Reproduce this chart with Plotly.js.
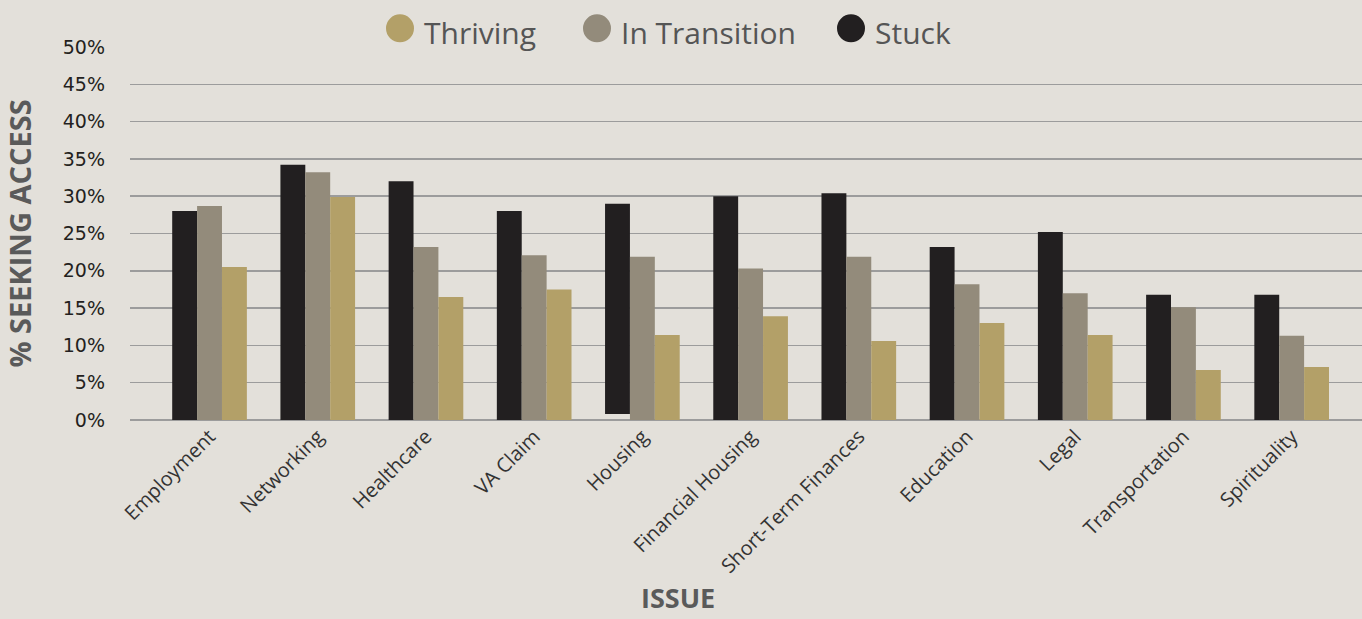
<!DOCTYPE html>
<html>
<head>
<meta charset="utf-8">
<script src="https://cdn.plot.ly/plotly-3.0.1.min.js"></script>
<style>
  html, body { margin: 0; padding: 0; background: #e3e0da; }
  #chart { width: 1362px; height: 619px; }
</style>
</head>
<body>
<div id="chart"></div>
<script>
// Share of respondents seeking access to each issue, by group (percent)
const categories = ['Employment', 'Networking', 'Healthcare', 'VA Claim', 'Housing',
  'Financial Housing', 'Short-Term Finances', 'Education', 'Legal', 'Transportation', 'Spirituality'];
const stuck      = [28.0, 34.2, 32.0, 28.0, 29.0, 30.0, 30.4, 23.2, 25.2, 16.8, 16.8];
const stuckBase  = [0, 0, 0, 0, 0.8, 0, 0, 0, 0, 0, 0];
const transition = [28.7, 33.2, 23.2, 22.1, 21.9, 20.3, 21.9, 18.2, 17.0, 15.1, 11.3];
const thriving   = [20.5, 29.9, 16.5, 17.5, 11.4, 13.9, 10.6, 13.0, 11.4, 6.7, 7.1];
const yTicks     = [0, 5, 10, 15, 20, 25, 30, 35, 40, 45, 50];

const seriesNames = ['Thriving', 'In Transition', 'Stuck'];
const colors = { 'Stuck': '#221f20', 'In Transition': '#938b7b', 'Thriving': '#b3a068' };

const traces = [
  {
    type: 'bar', name: 'Stuck', x: categories,
    y: stuck.map((v, i) => v - stuckBase[i]), base: stuckBase,
    marker: { color: colors['Stuck'] }, showlegend: false
  },
  {
    type: 'bar', name: 'In Transition', x: categories, y: transition,
    marker: { color: colors['In Transition'] }, showlegend: false
  },
  {
    type: 'bar', name: 'Thriving', x: categories, y: thriving,
    marker: { color: colors['Thriving'] }, showlegend: false
  }
];

// Legend: round swatches with labels across the top
const legendX = [400, 597, 851];   // swatch centres in px
const plotLeft = 130, plotWidth = 1232;
const shapes = [], annotations = [];
seriesNames.forEach((name, i) => {
  const px = (legendX[i] - plotLeft) / plotWidth;
  shapes.push({
    type: 'circle', xref: 'paper', yref: 'paper',
    xsizemode: 'pixel', ysizemode: 'pixel',
    xanchor: px, yanchor: 1.05,
    x0: -14, x1: 14, y0: -14, y1: 14,
    fillcolor: colors[name], line: { width: 0 }
  });
  annotations.push({
    text: name, xref: 'paper', yref: 'paper',
    x: px + 22 / plotWidth, y: 1.04, xanchor: 'left', yanchor: 'middle',
    showarrow: false,
    font: { family: 'Open Sans, sans-serif', size: 30, color: '#555555' }
  });
});
// x-axis title, set left of the plot centre
annotations.push({
  text: '<b>ISSUE</b>', xref: 'paper', yref: 'paper',
  x: (678 - plotLeft) / plotWidth, y: -0.531, xanchor: 'center', yanchor: 'bottom',
  showarrow: false,
  font: { family: 'Open Sans, sans-serif', size: 27, color: '#5a5a5a' }
});

const layout = {
  width: 1362, height: 619,
  margin: { l: 130, r: 0, t: 47, b: 199 },
  paper_bgcolor: '#e3e0da', plot_bgcolor: '#e3e0da',
  barmode: 'group', bargap: 0.31, bargroupgap: 0,
  showlegend: false,
  xaxis: {
    type: 'category', range: [-0.735, 10.65],
    tickangle: -45, showgrid: false, showline: false, zeroline: false,
    ticks: '', tickfont: { family: 'Open Sans, sans-serif', size: 20, color: '#333333' }
  },
  yaxis: {
    range: [0, 50], tickvals: yTicks, ticktext: yTicks.map(v => v + '%'),
    showgrid: true, gridcolor: '#9c9c9c', gridwidth: 1.5,
    zeroline: true, zerolinecolor: '#9c9c9c', zerolinewidth: 1.5,
    showline: false, ticks: '', ticklabelstandoff: 24,
    tickfont: { family: 'DejaVu Sans, sans-serif', size: 19, color: '#231f20' },
    title: {
      text: '<b>% SEEKING ACCESS</b>', standoff: 24,
      font: { family: 'Open Sans, sans-serif', size: 29, color: '#5a5a5a' }
    }
  },
  shapes: shapes,
  annotations: annotations
};

Plotly.newPlot('chart', traces, layout, { displayModeBar: false, staticPlot: true });
</script>
</body>
</html>
